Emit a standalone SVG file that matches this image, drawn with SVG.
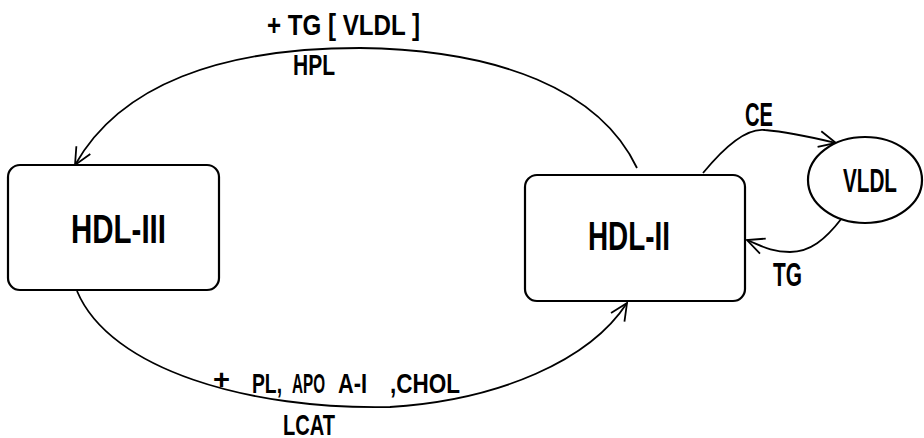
<svg xmlns="http://www.w3.org/2000/svg" width="924" height="438" viewBox="0 0 924 438">
<style>
.box{fill:#fff;stroke:#000;stroke-width:2.2}
.c{fill:none;stroke:#000;stroke-width:1.8}
.t{font-family:"Liberation Sans Narrow","Liberation Sans",Arial,sans-serif;font-weight:bold;fill:#000}
</style>
<defs>
<marker id="ah" viewBox="0 0 20 20" refX="19" refY="10" markerWidth="20" markerHeight="20" markerUnits="userSpaceOnUse" orient="auto">
<path d="M2,2 L19,10 L2,18" fill="none" stroke="#000" stroke-width="1.8"/>
</marker>
</defs>
<rect width="924" height="438" fill="#fff"/>
<g id="connectors">
<path class="c" d="M637,168 C600,90 500,50 360,48 C220,48 120,85 75,165" marker-end="url(#ah)"/>
<path class="c" d="M77,291 C110,370 250,410 390,407 C500,400 590,360 627,303" marker-end="url(#ah)"/>
<path class="c" d="M703,173 C730,140 750,128 765,130 C790,132 815,138 836,143" marker-end="url(#ah)"/>
<path class="c" d="M842,218 C825,240 810,252 790,252 C770,252 760,245 747,240" marker-end="url(#ah)"/>
</g>
<g id="hdl3">
<rect class="box" x="8" y="165" width="211" height="125" rx="12"/>
<text class="t" x="71" y="243" font-size="41" textLength="95" lengthAdjust="spacingAndGlyphs">HDL-III</text>
</g>
<g id="hdl2">
<rect class="box" x="525" y="175" width="220" height="126" rx="12"/>
<text class="t" x="588" y="250" font-size="41" textLength="82" lengthAdjust="spacingAndGlyphs">HDL-II</text>
</g>
<g id="vldl">
<ellipse class="box" cx="865" cy="180" rx="57" ry="43"/>
<text class="t" x="843" y="192" font-size="34" textLength="54" lengthAdjust="spacingAndGlyphs">VLDL</text>
</g>
<g id="labels">
<text class="t" x="267" y="35" font-size="30" textLength="153" lengthAdjust="spacingAndGlyphs">+ TG [ VLDL ]</text>
<text class="t" x="293" y="75" font-size="30" textLength="42" lengthAdjust="spacingAndGlyphs">HPL</text>
<text class="t" x="745" y="126" font-size="33" textLength="28" lengthAdjust="spacingAndGlyphs">CE</text>
<text class="t" x="773" y="286" font-size="33" textLength="29" lengthAdjust="spacingAndGlyphs">TG</text>
<text class="t" x="213" y="389" font-size="28" textLength="17" lengthAdjust="spacingAndGlyphs">+</text>
<text class="t" x="252" y="393" font-size="28" textLength="30" lengthAdjust="spacingAndGlyphs">PL,</text>
<text class="t" x="292" y="393" font-size="28" textLength="33" lengthAdjust="spacingAndGlyphs">APO</text>
<text class="t" x="338" y="393" font-size="28" textLength="29" lengthAdjust="spacingAndGlyphs">A-I</text>
<text class="t" x="390" y="393" font-size="28" textLength="70" lengthAdjust="spacingAndGlyphs">,CHOL</text>
<text class="t" x="283" y="435" font-size="30" textLength="52" lengthAdjust="spacingAndGlyphs">LCAT</text>
</g>
</svg>
